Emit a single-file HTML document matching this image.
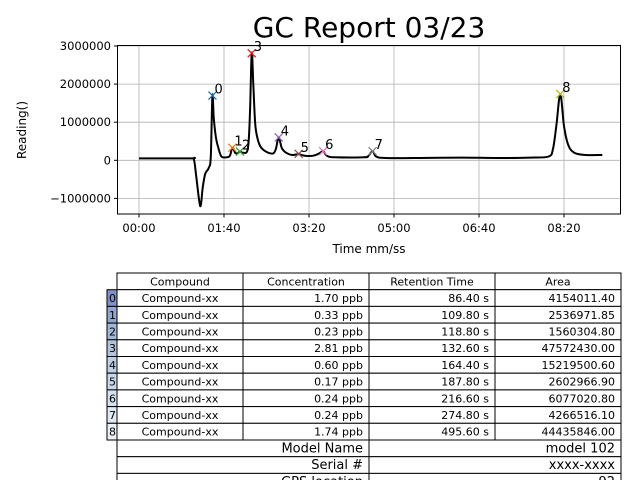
<!DOCTYPE html>
<html><head><meta charset="utf-8"><style>
body{margin:0;background:#fff;}
svg{display:block;font-family:"DejaVu Sans","Liberation Sans",sans-serif;}
</style></head><body>
<svg id="chart" width="640" height="480" viewBox="0 0 640 480">
<rect width="640" height="480" fill="#fff"/>
<text x="369" y="37" font-size="28" text-anchor="middle">GC Report 03/23</text>
<g id="grid"></g>
<g id="ticks"></g>
<path id="trace" fill="none" stroke="#000" stroke-width="2" stroke-linejoin="round"/>
<g id="peaks"></g>
<rect x="117.5" y="45.5" width="503" height="168.5" fill="none" stroke="#000" stroke-width="1"/>
<text x="369" y="253" font-size="12" text-anchor="middle">Time mm/ss</text>
<text transform="translate(26,130) rotate(-90)" font-size="12" text-anchor="middle">Reading()</text>
<g id="table" font-size="11"></g>
</svg>
<script>
const traceTimes=[0,60,64.5,67,72,75,78,82,84.5,86.4,88,90.5,93,97,103,107,109.8,113,116,118.8,122,128,130.5,132.6,134.5,137,141,146,152,158,161,164.4,168,173,180,187.8,195,205,212,216.6,221,230,265,270,274.8,279,290,330,380,420,460,482,487,491,495.6,500,505,512,525,545];
const traceVals=[0.05,0.05,0.03,-0.35,-1.2,-0.7,-0.35,-0.2,0.1,1.7,1.1,0.6,0.35,0.1,0.08,0.12,0.33,0.2,0.18,0.23,0.2,0.3,1.2,2.81,2.0,0.9,0.45,0.28,0.2,0.18,0.3,0.6,0.32,0.2,0.14,0.16,0.12,0.12,0.18,0.24,0.12,0.08,0.08,0.12,0.24,0.1,0.06,0.06,0.07,0.06,0.07,0.1,0.3,0.9,1.74,0.9,0.4,0.2,0.14,0.14];
const peakTimes=[86.4,109.8,118.8,132.6,164.4,187.8,216.6,274.8,495.6];
const peakVals=[1.7,0.33,0.23,2.81,0.6,0.17,0.24,0.24,1.74];
const peakColors=["#1f77b4","#ff7f0e","#2ca02c","#d62728","#9467bd","#8c564b","#e377c2","#7f7f7f","#bcbd22"];
const xTicks=[0,100,200,300,400,500];
const xTickLabels=["00:00","01:40","03:20","05:00","06:40","08:20"];
const yTicks=[-1,0,1,2,3];
const yTickLabels=["\u22121000000","0","1000000","2000000","3000000"];
const concs=["1.70 ppb","0.33 ppb","0.23 ppb","2.81 ppb","0.60 ppb","0.17 ppb","0.24 ppb","0.24 ppb","1.74 ppb"];
const rts=["86.40 s","109.80 s","118.80 s","132.60 s","164.40 s","187.80 s","216.60 s","274.80 s","495.60 s"];
const areas=["4154011.40","2536971.85","1560304.80","47572430.00","15219500.60","2602966.90","6077020.80","4266516.10","44435846.00"];

const NS="http://www.w3.org/2000/svg";
const X=t=>139+t*0.85;
const Y=v=>160.3-v*38.1;
function mk(tag,attrs,parent){const e=document.createElementNS(NS,tag);for(const k in attrs)e.setAttribute(k,attrs[k]);parent.appendChild(e);return e;}
const grid=document.getElementById('grid'),ticks=document.getElementById('ticks');
xTicks.forEach((t,i)=>{
  const l=mk('line',{x1:X(t),x2:X(t),y1:45.5,y2:214,stroke:'#b0b0b0','stroke-width':0.8},grid);
  
  
  mk('line',{x1:X(t),x2:X(t),y1:214,y2:217.5,stroke:'#000'},ticks);
  const tx=mk('text',{x:X(t),y:232,'font-size':11.5,'text-anchor':'middle'},ticks);
  tx.textContent=xTickLabels[i];
  
  
});
yTicks.forEach((v,i)=>{
  const l=mk('line',{x1:117.5,x2:620.5,y1:Y(v),y2:Y(v),stroke:'#b0b0b0','stroke-width':0.8},grid);
  
  
  mk('line',{x1:114,x2:117.5,y1:Y(v),y2:Y(v),stroke:'#000'},ticks);
  const tx=mk('text',{x:111,y:Y(v)+4,'font-size':11.5,'text-anchor':'end'},ticks);
  tx.textContent=yTickLabels[i];
  
  
});
(function(){
  const P=traceTimes.map((t,i)=>[X(t),Y(traceVals[i])]);
  let d='M'+P[0][0].toFixed(1)+','+P[0][1].toFixed(1);
  for(let i=0;i<P.length-1;i++){
    const p0=P[Math.max(0,i-1)],p1=P[i],p2=P[i+1],p3=P[Math.min(P.length-1,i+2)];
    const k=1/6;
    const c1=[p1[0]+(p2[0]-p0[0])*k,p1[1]+(p2[1]-p0[1])*k];
    const c2=[p2[0]-(p3[0]-p1[0])*k,p2[1]-(p3[1]-p1[1])*k];
    d+=` C${c1[0].toFixed(1)},${c1[1].toFixed(1)} ${c2[0].toFixed(1)},${c2[1].toFixed(1)} ${p2[0].toFixed(1)},${p2[1].toFixed(1)}`;
  }
  document.getElementById('trace').setAttribute('d',d);
})();
const pk=document.getElementById('peaks');
peakTimes.forEach((t,i)=>{
  const g=mk('g',{},pk);
  
  
  const x=X(t),y=Y(peakVals[i]),c=peakColors[i];
  mk('path',{d:`M${x-4},${y-4}L${x+4},${y+4}M${x-4},${y+4}L${x+4},${y-4}`,stroke:c,'stroke-width':1.3},g);
  const tx=mk('text',{x:x+2,y:y-2,'font-size':13},g);
  tx.textContent=String(i);
});
const tb=document.getElementById('table');
const cols=[117,243,369,495,621],tableTop=273,rh=16.7;
const blues=["#8090c8","#92a6d0","#a2b8d8","#b0c4de","#bcd0e6","#c8d8ec","#d4e2f0","#e0eaf4","#ecf2f8"];
function cell(x,y,w,h,txt,anchor,name,fs,fill){
  const g=mk('g',{},tb);
  
  
  mk('rect',{x:x,y:y,width:w,height:h,fill:fill||'#fff',stroke:'#000','stroke-width':1},g);
  const tx=anchor==='middle'?x+w/2:(anchor==='end'?x+w-6:x+2);
  const t=mk('text',{x:tx,y:y+h/2+4,'text-anchor':anchor,'font-size':fs||11},g);
  t.textContent=txt;
}
const heads=["Compound","Concentration","Retention Time","Area"];
heads.forEach((h,j)=>cell(cols[j],tableTop,cols[j+1]-cols[j],rh,h,'middle','header-cell'));
for(let i=0;i<9;i++){
  const y=tableTop+rh*(i+1);
  cell(107,y,10,rh,String(i),'start','row-label',11,blues[i]);
  cell(cols[0],y,126,rh,"Compound-xx",'middle','compound-cell');
  cell(cols[1],y,126,rh,concs[i],'end','concentration-cell');
  cell(cols[2],y,126,rh,rts[i],'end','retention-time-cell');
  cell(cols[3],y,126,rh,areas[i],'end','area-cell');
}
const meta=[["Model Name","model 102"],["Serial #","xxxx-xxxx"],["GPS location","92"]];
meta.forEach((m,k)=>{
  const y=tableTop+rh*(10+k);
  cell(117,y,252,rh,m[0],'end','meta-label',13);
  cell(369,y,252,rh,m[1],'end','meta-value',13);
});
</script>
</body></html>
